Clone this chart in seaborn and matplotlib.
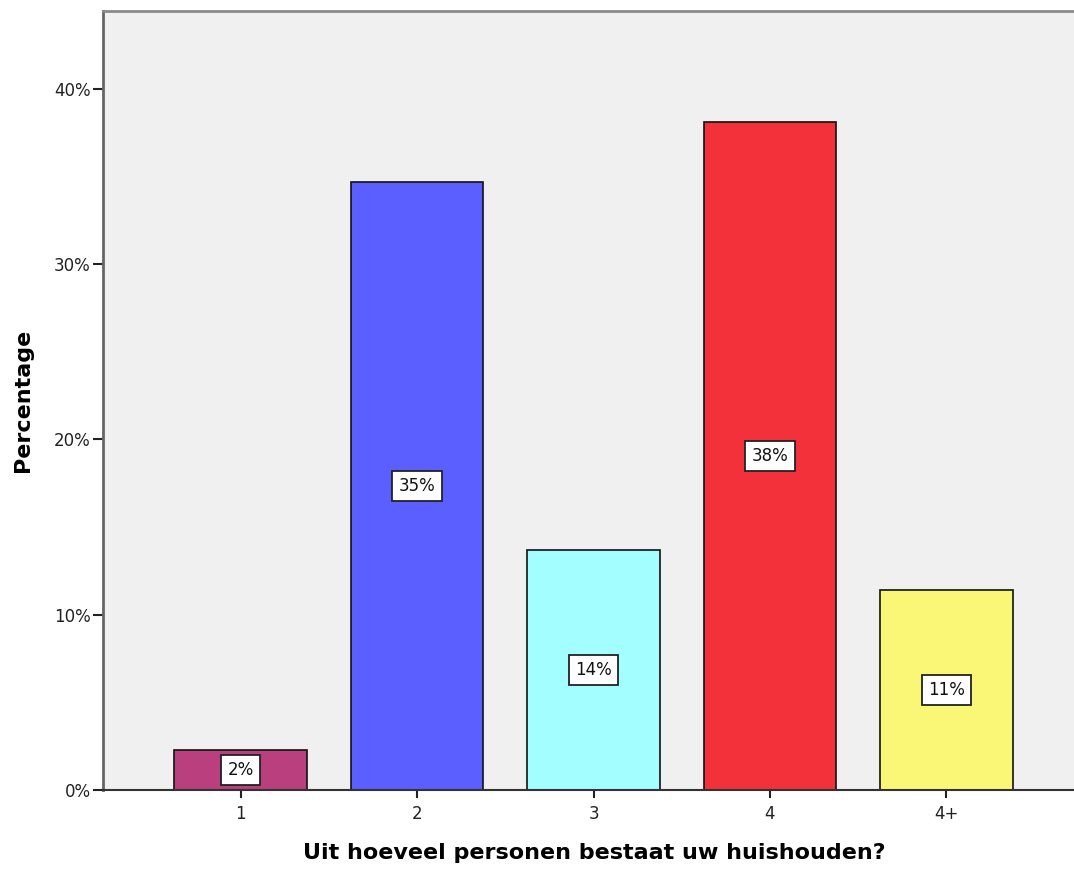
import numpy as np
import pandas as pd
import seaborn as sns
import matplotlib.pyplot as plt
from matplotlib.ticker import PercentFormatter

# Data
categories = ["1", "2", "3", "4", "4+"]
percentages = [2.3, 34.7, 13.7, 38.1, 11.4]
labels = ["2%", "35%", "14%", "38%", "11%"]
bar_colors = ["#BA3F7E", "#5B5FFF", "#A3FFFF", "#F2313A", "#FAF777"]

df = pd.DataFrame({"huishouden": categories, "pct": percentages})

sns.set_style("white")
plt.rcParams["font.family"] = ["DejaVu Sans"]
plt.rcParams["text.color"] = "black"
plt.rcParams["axes.labelcolor"] = "black"

fig = plt.figure(figsize=(10.74, 8.73), dpi=100)
ax = fig.add_axes([103 / 1074, 83 / 873, 981 / 1074, 779 / 873])
ax.set_facecolor("#F0F0F0")

sns.barplot(data=df, x="huishouden", y="pct", hue="huishouden",
            palette=bar_colors, legend=False, width=0.75,
            edgecolor="#111111", linewidth=1.2, saturation=1, ax=ax)

for cont, lab in zip(ax.containers, labels):
    ax.bar_label(cont, labels=[lab], label_type="center", fontsize=12,
                 color="#111111",
                 bbox=dict(boxstyle="square,pad=0.38", facecolor="white",
                           edgecolor="#222222", linewidth=1.3))

ax.set_xlim(-0.78, 4.78)
ax.set_ylim(0, 44.45)
ax.set_yticks([0, 10, 20, 30, 40])
ax.yaxis.set_major_formatter(PercentFormatter(decimals=0))

ax.spines["left"].set_color("#666666")
ax.spines["left"].set_linewidth(2)
ax.spines["top"].set_color("#8A8A8A")
ax.spines["top"].set_linewidth(2)
ax.spines["bottom"].set_color("#333333")
ax.spines["bottom"].set_linewidth(1.5)
ax.spines["right"].set_visible(False)

ax.tick_params(axis="y", direction="out", length=7, width=1.5, color="#222222",
               labelcolor="#222222", labelsize=12, pad=2, left=True)
ax.tick_params(axis="x", direction="out", length=6, width=1.5, color="#222222",
               labelcolor="#222222", labelsize=12, pad=5, bottom=True)

ax.set_xlabel("Uit hoeveel personen bestaat uw huishouden?", fontsize=16,
              fontweight="bold")
ax.set_ylabel("Percentage", fontsize=16, fontweight="bold")
ax.xaxis.set_label_coords(0.5005, -0.068)
ax.yaxis.set_label_coords(-0.071, 0.5)

fig.savefig("out.png", dpi=100)
